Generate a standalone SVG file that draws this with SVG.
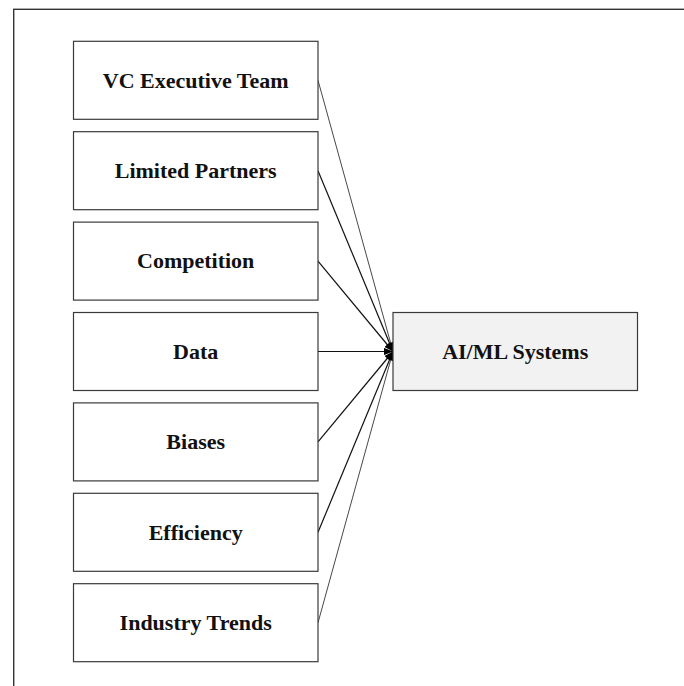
<svg xmlns="http://www.w3.org/2000/svg" width="684" height="686" viewBox="0 0 684 686">
  <style>
    .box { fill: #ffffff; stroke: #3a3a3a; stroke-width: 1.2; }
    .target { fill: #f2f2f2; stroke: #3a3a3a; stroke-width: 1.2; }
    .label { font-family: "Liberation Serif", "Times New Roman", serif; font-weight: bold; font-size: 22px; fill: #111111; text-anchor: middle; }
    .edge { fill: none; stroke: #111111; stroke-width: 1.2; marker-end: url(#arrow); }
    .edge.outer { stroke: #333333; stroke-width: 0.9; }
  </style>
  <defs>
    <marker id="arrow" viewBox="0 0 10 8" refX="10" refY="4" markerWidth="9" markerHeight="7.2" markerUnits="userSpaceOnUse" orient="auto">
      <path d="M0,0 L10,4 L0,8 Z" fill="#000000"/>
    </marker>
  </defs>

  <rect width="684" height="686" fill="#ffffff"/>
  <!-- outer frame -->
  <rect x="13.7" y="9.3" width="720" height="720" fill="none" stroke="#333333" stroke-width="1.4"/>

  <!-- connectors -->
  <g id="connectors">
    <line class="edge outer" x1="318" y1="80.3" x2="393" y2="351.5"/>
    <line class="edge" x1="318" y1="170.7" x2="393" y2="351.5"/>
    <line class="edge" x1="318" y1="261.1" x2="393" y2="351.5"/>
    <line class="edge" x1="318" y1="351.5" x2="393" y2="351.5"/>
    <line class="edge" x1="318" y1="441.9" x2="393" y2="351.5"/>
    <line class="edge" x1="318" y1="532.3" x2="393" y2="351.5"/>
    <line class="edge outer" x1="318" y1="622.7" x2="393" y2="351.5"/>
  </g>

  <g id="vc-executive-team">
    <rect class="box" x="73.5" y="41.3" width="244.5" height="78"/>
    <text class="label" x="195.7" y="87.6">VC Executive Team</text>
  </g>
  <g id="limited-partners">
    <rect class="box" x="73.5" y="131.7" width="244.5" height="78"/>
    <text class="label" x="195.7" y="178">Limited Partners</text>
  </g>
  <g id="competition">
    <rect class="box" x="73.5" y="222.1" width="244.5" height="78"/>
    <text class="label" x="195.7" y="268.4">Competition</text>
  </g>
  <g id="data">
    <rect class="box" x="73.5" y="312.5" width="244.5" height="78"/>
    <text class="label" x="195.7" y="358.8">Data</text>
  </g>
  <g id="biases">
    <rect class="box" x="73.5" y="402.9" width="244.5" height="78"/>
    <text class="label" x="195.7" y="449.2">Biases</text>
  </g>
  <g id="efficiency">
    <rect class="box" x="73.5" y="493.3" width="244.5" height="78"/>
    <text class="label" x="195.7" y="539.6">Efficiency</text>
  </g>
  <g id="industry-trends">
    <rect class="box" x="73.5" y="583.7" width="244.5" height="78"/>
    <text class="label" x="195.7" y="630">Industry Trends</text>
  </g>

  <g id="ai-ml-systems">
    <rect class="target" x="393" y="312.5" width="244.5" height="78"/>
    <text class="label" x="515.2" y="358.8">AI/ML Systems</text>
  </g>
</svg>
